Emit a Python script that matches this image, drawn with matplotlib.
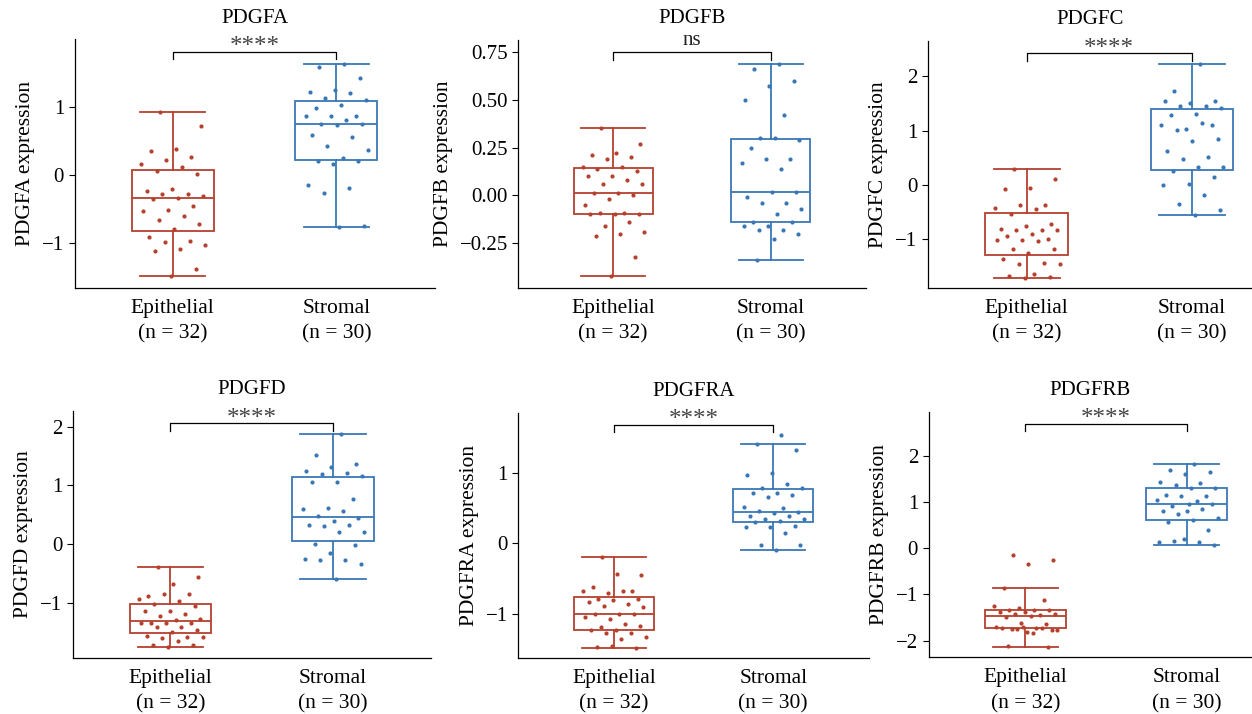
import numpy as np
import matplotlib
matplotlib.use("Agg")
import matplotlib.pyplot as plt
import matplotlib.transforms as mtransforms

plt.rcParams['font.family'] = ['Liberation Serif', 'DejaVu Serif']
plt.rcParams['font.size'] = 14

# expression values per gene: epithelial (n = 32) and stromal (n = 30) samples
genes = ['PDGFA', 'PDGFB', 'PDGFC', 'PDGFD', 'PDGFRA', 'PDGFRB']
signif = ['****', 'ns', '****', '****', '****', '****']

pdgfa_epi = [0.93, 0.72, 0.38, 0.36, 0.26, 0.22, 0.17, 0.12, 0.06, 0.01,
             -0.20, -0.23, -0.27, -0.28, -0.31, -0.33, -0.35, -0.45, -0.51, -0.52,
             -0.60, -0.66, -0.71, -0.79, -0.91, -0.96, -0.98, -1.03, -1.08, -1.11,
             -1.38, -1.48]
pdgfa_str = [1.63, 1.59, 1.43, 1.25, 1.22, 1.21, 1.13, 1.10, 1.02, 0.99,
             0.87, 0.86, 0.86, 0.81, 0.75, 0.75, 0.74, 0.59, 0.56, 0.43,
             0.37, 0.25, 0.21, 0.20, 0.16, -0.14, -0.19, -0.26, -0.74, -0.76]

pdgfb_epi = [0.35, 0.27, 0.22, 0.21, 0.20, 0.19, 0.15, 0.15, 0.14, 0.13,
             0.10, 0.10, 0.08, 0.06, 0.06, 0.01, 0.01, 0.00, -0.02, -0.05,
             -0.09, -0.09, -0.10, -0.10, -0.10, -0.14, -0.16, -0.19, -0.20, -0.21,
             -0.32, -0.42]
pdgfb_str = [0.69, 0.66, 0.60, 0.57, 0.50, 0.42, 0.30, 0.29, 0.30, 0.25,
             0.19, 0.19, 0.17, 0.14, -0.34, 0.02, 0.02, -0.01, -0.04, -0.04,
             -0.07, -0.10, -0.14, -0.14, -0.16, -0.16, -0.18, -0.18, -0.20, -0.23]

pdgfc_epi = [0.29, 0.10, -0.05, -0.07, -0.37, -0.38, -0.43, -0.45, -0.53, -0.72,
             -0.76, -0.82, -0.83, -0.84, -0.84, -0.90, -0.94, -0.99, -1.01, -1.01,
             -1.03, -1.18, -1.18, -1.26, -1.37, -1.44, -1.45, -1.46, -1.64, -1.67,
             -1.69, -1.71]
pdgfc_str = [2.23, 1.72, 1.54, 1.50, 1.54, 1.45, 1.45, 1.42, 1.30, 1.28,
             1.11, 1.02, 1.11, 1.14, 1.01, 0.84, 0.80, 0.62, 0.52, 0.48,
             0.32, 0.33, 0.25, 0.15, 0.01, -0.01, -0.18, -0.36, -0.47, -0.56]

pdgfd_epi = [-0.40, -0.56, -0.68, -0.88, -0.85, -0.86, -0.94, -0.97, -1.03, -1.06,
             -1.15, -1.14, -1.20, -1.23, -1.28, -1.30, -1.34, -1.34, -1.34, -1.35,
             -1.41, -1.42, -1.47, -1.50, -1.56, -1.58, -1.61, -1.59, -1.65, -1.72,
             -1.73, -1.76]
pdgfd_str = [1.88, 1.52, 1.36, 1.32, 1.25, 1.21, 1.19, 1.16, 1.06, 1.05,
             0.76, 0.61, 0.60, 0.57, 0.48, 0.44, 0.40, 0.33, 0.33, 0.31,
             0.20, 0.20, 0.00, -0.01, -0.15, -0.25, -0.28, -0.28, -0.34, -0.59]

pdgfra_epi = [-0.19, -0.45, -0.44, -0.62, -0.68, -0.70, -0.68, -0.67, -0.79, -0.79,
              -0.80, -0.84, -0.86, -0.89, -0.90, -1.01, -1.01, -1.01, -1.07, -1.05,
              -1.14, -1.19, -1.18, -1.23, -1.23, -1.27, -1.27, -1.33, -1.36, -1.47,
              -1.48, -1.45]
pdgfra_str = [1.54, 1.41, 1.33, 1.00, 0.97, 0.84, 0.79, 0.78, 0.72, 0.71,
              0.69, 0.65, 0.51, 0.50, 0.46, 0.44, 0.43, 0.39, 0.38, 0.35,
              0.34, 0.32, 0.30, 0.24, 0.23, 0.23, 0.14, -0.03, -0.03, -0.09]

pdgfrb_epi = [-0.14, -0.26, -0.34, -0.85, -1.12, -1.29, -1.26, -1.34, -1.34, -1.34,
              -1.39, -1.38, -1.45, -1.43, -1.42, -1.46, -1.48, -1.63, -1.62, -1.70,
              -1.72, -1.74, -1.78, -1.81, -1.73, -1.73, -1.75, -1.76, -1.83, -2.12,
              -2.13, -1.70]
pdgfrb_str = [1.82, 1.69, 1.65, 1.61, 1.43, 1.41, 1.38, 1.31, 1.30, 1.16,
              1.13, 1.13, 1.05, 1.02, 0.92, 0.96, 0.80, 0.80, 0.85, 0.75,
              0.66, 0.61, 0.58, 0.40, 0.21, 0.14, 0.14, 0.16, 0.07, 0.95]

epithelial = [pdgfa_epi, pdgfb_epi, pdgfc_epi, pdgfd_epi, pdgfra_epi, pdgfrb_epi]
stromal = [pdgfa_str, pdgfb_str, pdgfc_str, pdgfd_str, pdgfra_str, pdgfrb_str]

# layout: axes boxes in pixels (left, right, top, bottom), x and y limits
W, H = 1252, 714
boxes_px = [(74.5, 434.5, 39.3, 287.7), (518.2, 865.8, 40.0, 287.5), (927.7, 1252, 41.0, 288.0),
            (72.7, 430.6, 411.0, 657.7), (518.4, 868.9, 412.7, 657.7), (928.5, 1252, 411.7, 657.3)]
xlims = [(0.4, 2.6), (0.4, 2.6), (0.4, 2.365), (0.4, 2.6), (0.4, 2.6), (0.4, 2.405)]
ylims = [(-1.65, 1.99), (-0.482, 0.813), (-1.90, 2.65),
         (-1.938, 2.267), (-1.623, 1.852), (-2.361, 2.959)]
yticks = [[-1, 0, 1], [-0.25, 0, 0.25, 0.5, 0.75], [-1, 0, 1, 2],
          [-1, 0, 1, 2], [-1, 0, 1], [-2, -1, 0, 1, 2]]
show_median = [True, True, False, True, True, True]

red = '#B5402E'
blue = '#3A77B5'

fig = plt.figure(figsize=(W / 100, H / 100), dpi=100)

for i, gene in enumerate(genes):
    l, r, t, b = boxes_px[i]
    ax = fig.add_axes([l / W, 1 - b / H, (r - l) / W, (b - t) / H])
    groups = [np.array(epithelial[i]), np.array(stromal[i])]
    colors = [red, blue]

    for pos, (vals, col) in enumerate(zip(groups, colors), start=1):
        ax.boxplot([vals], positions=[pos], widths=0.5, capwidths=0.4, whis=1.5,
                   showfliers=False, patch_artist=True,
                   boxprops=dict(facecolor='none', edgecolor=col, linewidth=1.3),
                   whiskerprops=dict(color=col, linewidth=1.3),
                   capprops=dict(color=col, linewidth=1.3),
                   medianprops=dict(color=col, linewidth=1.3 if show_median[i] else 0))
        # deterministic jitter spread
        jit = ((np.arange(len(vals)) * 0.618034 + 0.31 * pos) % 1 - 0.5) * 0.4
        ax.scatter(pos + jit, vals, s=9, color=col, zorder=3, linewidths=0)

    # significance bracket
    trans = mtransforms.blended_transform_factory(ax.transData, ax.transAxes)
    ax.plot([1, 1, 2, 2], [0.92, 0.95, 0.95, 0.92], color='black', lw=0.9,
            transform=trans, clip_on=False)
    if signif[i] == 'ns':
        ax.text(1.5, 0.96, 'ns', transform=trans, ha='center', va='bottom',
                fontsize=15, color='#222222')
    else:
        ax.text(1.5, 0.925, signif[i], transform=trans, ha='center', va='bottom',
                fontsize=18, color='#444444')

    ax.set_xlim(*xlims[i])
    ax.set_ylim(*ylims[i])
    ax.set_yticks(yticks[i])
    ax.set_xticks([1, 2])
    ax.set_xticklabels([f'Epithelial\n(n = {len(groups[0])})',
                        f'Stromal\n(n = {len(groups[1])})'], linespacing=1.45)
    ax.tick_params(axis='x', length=0, pad=8, labelsize=15.5)
    ax.tick_params(axis='y', length=4.5, width=0.8, labelsize=15, pad=3)
    for side in ['top', 'right']:
        ax.spines[side].set_visible(False)
    for side in ['left', 'bottom']:
        ax.spines[side].set_linewidth(0.9)
    ax.set_ylabel(f'{gene} expression', fontsize=15.5, labelpad=5)
    ax.set_title(gene, fontsize=15, pad=12)

fig.savefig('out.png', dpi=100)
